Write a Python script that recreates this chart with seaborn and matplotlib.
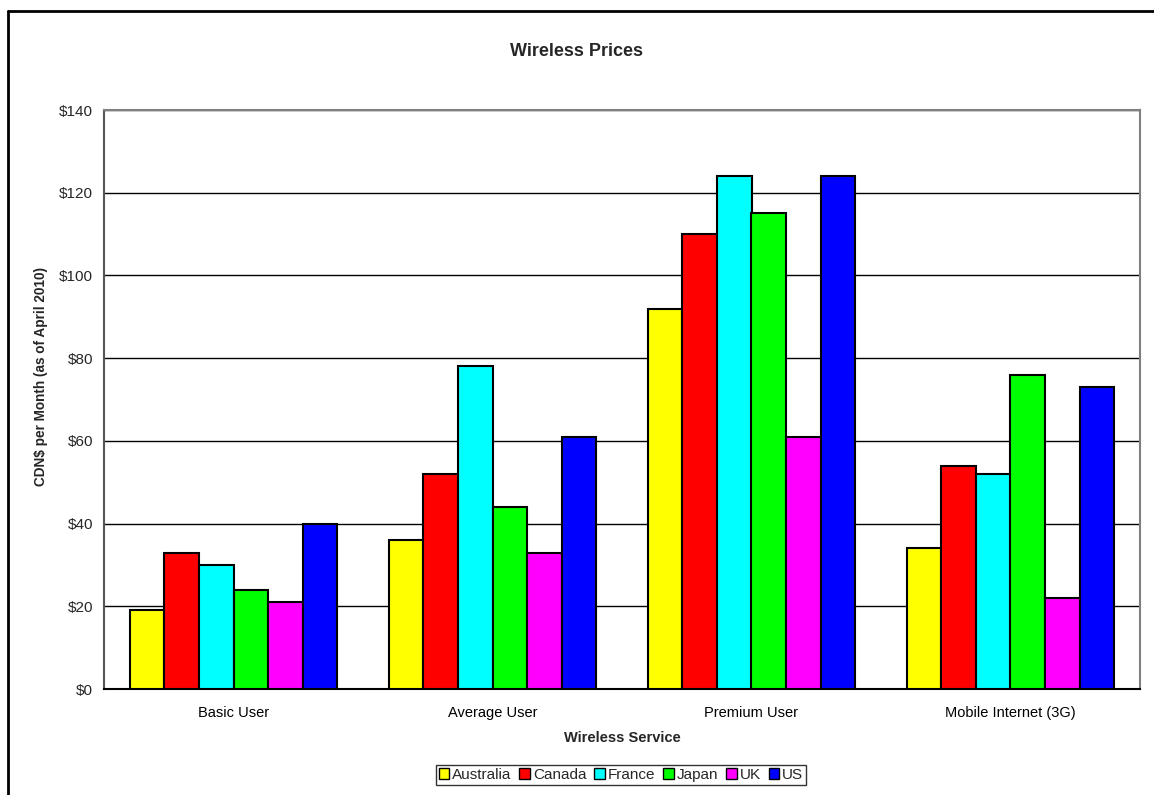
import matplotlib
matplotlib.use("Agg")
import matplotlib.pyplot as plt
import seaborn as sns
import pandas as pd
from matplotlib.ticker import FuncFormatter, FixedLocator

services = ["Basic User", "Average User", "Premium User", "Mobile Internet (3G)"]
countries = ["Australia", "Canada", "France", "Japan", "UK", "US"]
colors = ["#ffff00", "#ff0000", "#00ffff", "#00ff00", "#ff00ff", "#0000ff"]

australia = [19, 36, 92, 34]
canada = [33, 52, 110, 54]
france = [30, 78, 124, 52]
japan = [24, 44, 115, 76]
uk = [21, 33, 61, 22]
us = [40, 61, 124, 73]

series = [australia, canada, france, japan, uk, us]
rows = []
for c, vals in zip(countries, series):
    for s, v in zip(services, vals):
        rows.append({"service": s, "country": c, "price": v})
df = pd.DataFrame(rows)

sns.set_style("white")
plt.rcParams["font.family"] = ["Liberation Sans", "DejaVu Sans"]

fig = plt.figure(figsize=(11.54, 7.95), dpi=100)
ax = fig.add_axes([104 / 1154, 1 - 689 / 795, (1140 - 104) / 1154, (689 - 110) / 795])

sns.barplot(data=df, x="service", y="price", hue="country", order=services,
            hue_order=countries, palette=dict(zip(countries, colors)),
            saturation=1, width=0.8, edgecolor="black", linewidth=1.5,
            ax=ax, legend=True, zorder=3)

ax.set_ylim(0, 140)
ax.set_xlim(-0.5, 3.5)
ax.set_yticks(range(0, 141, 20))
ax.yaxis.set_major_formatter(FuncFormatter(lambda v, p: f"${int(v)}"))
ax.grid(axis="y", color="#000000", linewidth=1, zorder=0)
ax.set_axisbelow(True)

# Excel-style ticks between categories
ax.xaxis.set_minor_locator(FixedLocator([-0.5, 0.5, 1.5, 2.5, 3.5]))
ax.tick_params(axis="x", which="major", length=0, labelsize=10.5, pad=12, colors="black")
ax.tick_params(axis="x", which="minor", length=5, width=1, color="#555555")
ax.tick_params(axis="y", length=5, width=1, color="#555555", labelsize=11, pad=3)

for side in ["top", "right"]:
    ax.spines[side].set_visible(True)
    ax.spines[side].set_color("#808080")
    ax.spines[side].set_linewidth(1.5)
ax.spines["left"].set_color("#555555")
ax.spines["left"].set_linewidth(1.5)
ax.spines["bottom"].set_color("black")
ax.spines["bottom"].set_linewidth(1.5)

ax.set_xlabel("Wireless Service", fontsize=10.5, fontweight="bold", labelpad=8)
ax.set_ylabel("CDN$ per Month (as of April 2010)", fontsize=9.8, fontweight="bold")
ax.yaxis.set_label_coords((48 - 104) / 1036, (689 - 376) / 579)

fig.text(0.5, 1 - 52 / 795, "Wireless Prices", ha="center", va="center",
         fontsize=13, fontweight="bold")

handles, labels = ax.get_legend_handles_labels()
ax.legend_.remove()
leg = fig.legend(handles, labels, loc="center", bbox_to_anchor=(621 / 1154, 1 - 775 / 795),
                 ncol=6, fontsize=11, frameon=True, fancybox=False, edgecolor="black",
                 handlelength=0.7, handleheight=0.7, handletextpad=0.2,
                 columnspacing=0.5, borderpad=0.2, borderaxespad=0)
leg.get_frame().set_linewidth(1)
for h in leg.legend_handles:
    h.set_linewidth(1)

# outer chart border (top and left edges are visible in the frame)
fig.add_artist(plt.Line2D([8 / 1154, 8 / 1154], [0, 1 - 11 / 795], color="black", linewidth=2))
fig.add_artist(plt.Line2D([8 / 1154, 1], [1 - 11 / 795, 1 - 11 / 795], color="black", linewidth=2))

fig.savefig("out.png", dpi=100)
